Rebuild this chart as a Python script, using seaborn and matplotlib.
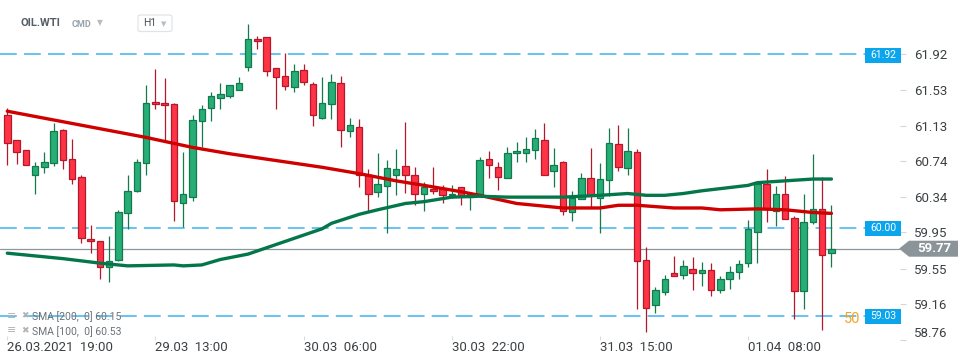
import numpy as np
import pandas as pd
import seaborn as sns
import matplotlib.pyplot as plt
from matplotlib.patches import Rectangle, Polygon, FancyBboxPatch

# hourly OIL.WTI candles
opens = [61.25, 60.97, 60.86, 60.58, 60.67, 60.72, 61.08, 60.76, 60.56, 59.88,
         59.86, 59.57, 59.64, 60.17, 60.41, 60.72, 61.39, 61.38, 61.37, 60.28,
         60.34, 61.18, 61.33, 61.44, 61.46, 61.53, 61.78, 62.09, 62.11, 61.77,
         61.68, 61.56, 61.75, 61.59, 61.22, 61.37, 61.60, 61.07, 61.12, 60.59,
         60.40, 60.46, 60.59, 60.68, 60.58, 60.38, 60.43, 60.43, 60.36, 60.45,
         60.34, 60.37, 60.76, 60.67, 60.55, 60.83, 60.83, 60.86, 60.97, 60.63,
         60.73, 60.18, 60.32, 60.55, 60.33, 60.53, 60.93, 60.66, 60.84, 59.65,
         59.15, 59.29, 59.50, 59.48, 59.54, 59.50, 59.53, 59.31, 59.43, 59.51,
         59.61, 59.95, 60.49, 60.19, 60.37, 60.11, 59.30, 60.06, 60.21, 59.72]
highs = [61.33, 60.97, 60.86, 60.73, 60.84, 61.16, 61.09, 60.98, 60.59, 60.03,
         59.86, 59.91, 60.20, 60.58, 60.76, 61.58, 61.76, 61.66, 61.38, 60.84,
         61.25, 61.36, 61.50, 61.60, 61.58, 61.67, 62.26, 62.12, 62.11, 61.77,
         61.93, 61.81, 61.81, 61.61, 61.67, 61.70, 61.68, 61.21, 61.20, 60.65,
         60.83, 60.75, 60.87, 61.17, 60.67, 60.51, 60.67, 60.47, 60.47, 60.45,
         60.38, 60.78, 60.85, 60.73, 60.89, 60.95, 61.01, 61.09, 61.16, 60.88,
         60.74, 60.41, 60.61, 60.88, 60.72, 61.10, 61.14, 61.10, 60.87, 59.79,
         59.35, 59.48, 59.69, 59.65, 59.68, 59.62, 59.61, 59.47, 59.58, 59.64,
         60.09, 60.52, 60.65, 60.46, 60.57, 60.13, 60.37, 60.82, 60.56, 60.25]
lows = [60.69, 60.71, 60.70, 60.37, 60.61, 60.68, 60.65, 60.49, 59.83, 59.72,
        59.43, 59.40, 59.63, 59.99, 60.40, 60.59, 61.31, 60.96, 60.08, 60.01,
        60.30, 60.89, 61.18, 61.32, 61.44, 61.53, 61.74, 61.98, 61.68, 61.32,
        61.52, 61.50, 61.58, 61.13, 61.20, 61.20, 60.89, 61.00, 60.45, 60.18,
        60.34, 59.94, 60.36, 60.39, 60.25, 60.19, 60.37, 60.28, 60.33, 60.25,
        60.20, 60.36, 60.55, 60.42, 60.55, 60.73, 60.73, 60.76, 60.59, 60.45,
        60.14, 60.08, 60.32, 60.23, 59.94, 60.35, 60.63, 60.59, 59.10, 58.85,
        59.06, 59.26, 59.47, 59.44, 59.31, 59.36, 59.25, 59.28, 59.32, 59.43,
        59.57, 59.61, 60.06, 60.02, 60.10, 58.99, 59.10, 60.04, 58.87, 59.57]
closes = [60.94, 60.84, 60.70, 60.68, 60.73, 61.07, 60.75, 60.54, 59.89, 59.85,
          59.57, 59.63, 60.18, 60.41, 60.73, 61.38, 61.37, 61.36, 60.30, 60.37,
          61.19, 61.32, 61.46, 61.48, 61.58, 61.60, 62.09, 62.07, 61.74, 61.67,
          61.57, 61.73, 61.61, 61.25, 61.38, 61.61, 61.08, 61.14, 60.58, 60.37,
          60.48, 60.66, 60.65, 60.58, 60.37, 60.45, 60.41, 60.36, 60.38, 60.36,
          60.37, 60.75, 60.69, 60.56, 60.83, 60.85, 60.87, 60.99, 60.59, 60.70,
          60.19, 60.33, 60.55, 60.36, 60.54, 60.94, 60.67, 60.85, 59.63, 59.11,
          59.31, 59.43, 59.47, 59.58, 59.50, 59.53, 59.31, 59.43, 59.51, 59.60,
          59.99, 60.48, 60.21, 60.38, 60.10, 59.30, 60.06, 60.21, 59.70, 59.77]

# moving averages, values read at some candles
sma200_idx = [0, 15, 20, 24, 30, 34, 38, 42, 45, 49, 51, 55, 58, 60, 64, 66, 68, 72, 75, 77, 81, 84, 87, 89]
sma200_val = [61.29, 61.00, 60.89, 60.82, 60.73, 60.67, 60.60, 60.52, 60.47, 60.40, 60.36, 60.27,
              60.24, 60.22, 60.22, 60.25, 60.25, 60.22, 60.22, 60.20, 60.21, 60.20, 60.17, 60.16]
sma100_idx = [0, 3, 6, 10, 13, 18, 19, 21, 23, 26, 28, 30, 34, 35, 38, 40, 43, 45, 48, 51, 54,
              60, 64, 67, 69, 71, 73, 75, 80, 81, 84, 87, 89]
sma100_val = [59.72, 59.69, 59.66, 59.61, 59.58, 59.59, 59.58, 59.59, 59.65, 59.71, 59.78, 59.85,
              59.99, 60.05, 60.15, 60.20, 60.27, 60.29, 60.34, 60.35, 60.34, 60.34, 60.36, 60.38,
              60.36, 60.36, 60.38, 60.41, 60.47, 60.50, 60.52, 60.54, 60.54]

ytick_vals = [61.92, 61.53, 61.13, 60.74, 60.34, 59.95, 59.55, 59.16, 58.76]
xtick_idx = [0, 16, 32, 48, 64, 80]
xtick_labels = ['26.03.2021  19:00', '29.03  13:00', '30.03  06:00',
                '30.03  22:00', '31.03  15:00', '01.04  08:00']
levels = [61.92, 60.00, 59.03]
last_price = 59.77

df = pd.DataFrame({'open': opens, 'high': highs, 'low': lows, 'close': closes})
df['idx'] = np.arange(len(df))
sma200 = pd.DataFrame({'idx': sma200_idx, 'val': sma200_val})
sma100 = pd.DataFrame({'idx': sma100_idx, 'val': sma100_val})

sns.set_theme(style='white')
plt.rcParams['font.family'] = ['Roboto', 'DejaVu Sans']

W, H = 970, 364
fig = plt.figure(figsize=(9.7, 3.64), dpi=100)
fx = lambda px: px / W
fy = lambda py: 1 - py / H

ax = fig.add_axes([0, fy(340), fx(900), 340 / H])
for s in ax.spines.values():
    s.set_visible(False)

# candles
up = df['close'] >= df['open']
for _, r in df.iterrows():
    green = r['close'] >= r['open']
    wick = '#137a4e' if green else '#b5182b'
    ax.vlines(r['idx'], r['low'], r['high'], color=wick, lw=0.9, zorder=2)
for mask, fill, edge in [(up, '#27ad76', '#137a4e'), (~up, '#ff3346', '#b5182b')]:
    d = df[mask]
    body = (d['close'] - d['open']).abs().clip(lower=0.015)
    ax.bar(d['idx'], body, bottom=d[['open', 'close']].min(axis=1), width=0.7,
           color=fill, edgecolor=edge, linewidth=0.9, zorder=3)

sns.lineplot(data=sma200, x='idx', y='val', color='#d00000', lw=2.4, ax=ax, zorder=4)
sns.lineplot(data=sma100, x='idx', y='val', color='#04774a', lw=2.4, ax=ax, zorder=4)

# horizontal levels
for lv in levels:
    ax.axhline(lv, xmin=0, xmax=865 / 900, color='#3cb3ee', lw=1.1, dashes=(11, 4.7), zorder=1)
ax.axhline(last_price, color='#8c969c', lw=0.9, zorder=1)

x0 = -7.3 / 9.26
ax.set_xlim(x0, x0 + 900 / 9.26)
ax.set_ylim(58.763, 62.52)
ax.set_xlabel('')
ax.set_ylabel('')

ax.yaxis.tick_right()
ax.set_yticks(ytick_vals)
ax.set_yticklabels([f'{v:.2f}' for v in ytick_vals])
ax.tick_params(axis='y', length=4, width=0.8, color='#d6d6d6', pad=6,
               labelsize=9.5, labelcolor='#3c4043', right=True, left=False)
ax.get_yticklabels()[-1].set_va('bottom')

ax.set_xticks(xtick_idx)
ax.set_xticklabels(xtick_labels, ha='left')
ax.tick_params(axis='x', direction='in', length=3, width=0.8, color='#dcdcdc', pad=1,
               labelsize=9.5, labelcolor='#3c4043', bottom=True)

# header
fig.text(fx(21), fy(23.5), 'OIL.WTI', fontsize=8, fontweight='bold', color='#555d66', va='center')
fig.text(fx(72), fy(24.5), 'CMD', fontsize=6.5, fontweight='bold', color='#9aa3ab', va='center')
fig.text(fx(97), fy(23), '▼', fontsize=5.5, color='#b8bdc2', va='center', family='DejaVu Sans')
fig.patches.append(FancyBboxPatch((fx(138), fy(31.5)), fx(34), 16.5 / H,
                                  boxstyle='round,pad=0,rounding_size=0.004',
                                  transform=fig.transFigure, fc='white', ec='#e1e4e7', lw=0.9))
fig.text(fx(143), fy(23.5), 'H1', fontsize=7.5, color='#4a5158', va='center')
fig.text(fx(161), fy(24), '▼', fontsize=5, color='#b8bdc2', va='center', family='DejaVu Sans')

# sma legend
for yy, txt in [(316.5, 'SMA [200,  0] 60.15'), (331.5, 'SMA [100,  0] 60.53')]:
    fig.text(fx(7), fy(yy - 1), '≡', fontsize=8, color='#b0b4b8', va='center', family='DejaVu Sans')
    fig.text(fx(21), fy(yy - 1), '✖', fontsize=6.5, color='#b0b4b8', va='center', family='DejaVu Sans')
    fig.text(fx(32), fy(yy), txt, fontsize=7.5, color='#6b7177', va='center')

# orange hint peeking out left of the 59.03 box
fig.text(fx(844), fy(319), '50', fontsize=10.5, color='#f5a42a', va='center', zorder=1)

# level price boxes
for lv, yy in zip(levels, [55.2, 228.3, 316.4]):
    fig.patches.append(Rectangle((fx(865), fy(yy + 7.5)), fx(36), 15 / H,
                                 transform=fig.transFigure, fc='#0aa5ec', ec='none', zorder=2))
    fig.text(fx(883), fy(yy), f'{lv:.2f}', fontsize=7.5, color='white',
             ha='center', va='center', zorder=3)

# last price tag
yc = 248.7
pts = [(fx(899), fy(yc)), (fx(909), fy(yc - 8)), (fx(958), fy(yc - 8)),
       (fx(958), fy(yc + 8)), (fx(909), fy(yc + 8))]
fig.patches.append(Polygon(pts, closed=True, transform=fig.transFigure,
                           fc='#8b9599', ec='none', zorder=2))
fig.text(fx(934), fy(yc), f'{last_price:.2f}', fontsize=9.5, fontweight='bold',
         color='white', ha='center', va='center', zorder=3)

fig.savefig('out.png', dpi=100, facecolor='white')
